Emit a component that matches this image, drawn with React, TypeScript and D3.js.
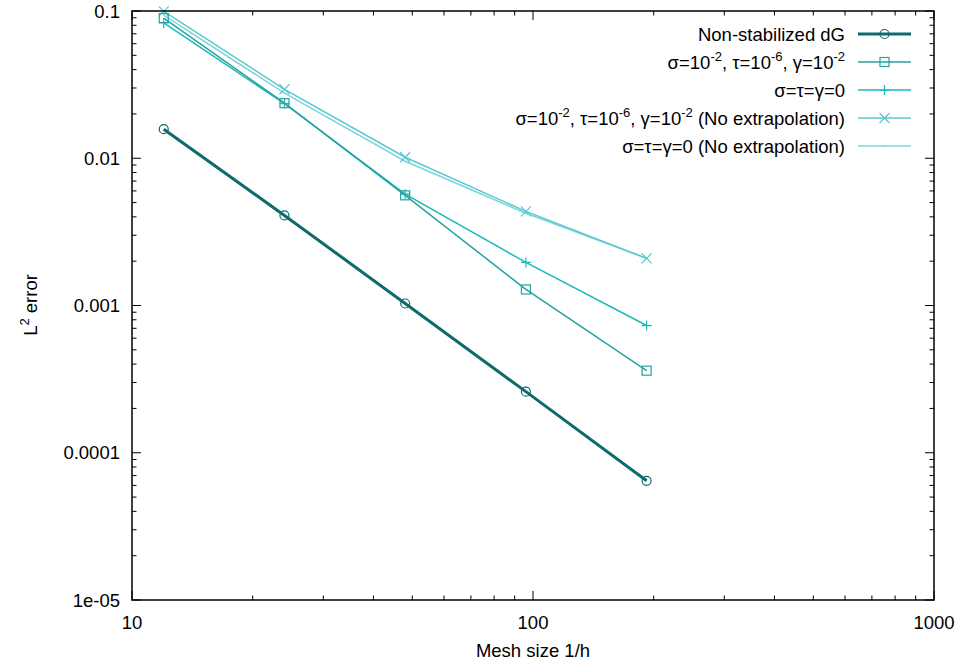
import React from "react";
import * as d3 from "d3";

const meshSizes = [12, 24, 48, 96, 192];
const nonStabilized = [0.01575, 0.00409, 0.001032, 0.00026, 6.45e-5];
const stabilized = [0.0896, 0.02366, 0.0056, 0.001285, 3.61e-4];
const zeroParams = [0.0829, 0.0235, 0.0057, 0.00196, 7.31e-4];
const stabilizedNoExtrap = [0.0995, 0.0294, 0.01016, 0.00436, 0.00209];
const zeroParamsNoExtrap = [0.0939, 0.02767, 0.00954, 0.00423, 0.00209];

const xTicks = [10, 100, 1000];
const yTicks = [1e-5, 1e-4, 1e-3, 1e-2, 1e-1];
const yTickLabels = ["1e-05", "0.0001", "0.001", "0.01", "0.1"];

type Marker = "circle" | "square" | "plus" | "cross" | "dot";
const FS = 18.5;
const SFS = 13;
const sup = (t: string, after: string) => (
  <><tspan dy={-8} fontSize={SFS}>{t}</tspan><tspan dy={8}>{after}</tspan></>
);
const seriesList: { values: number[]; color: string; width: number; marker: Marker; label: React.ReactNode }[] = [
  { values: nonStabilized, color: "#0f6a6a", width: 3, marker: "circle", label: "Non-stabilized dG" },
  {
    values: stabilized, color: "#25a2a2", width: 1.5, marker: "square",
    label: (<>σ=10{sup("-2", ", τ=10")}{sup("-6", ", γ=10")}<tspan dy={-8} fontSize={SFS}>-2</tspan></>),
  },
  { values: zeroParams, color: "#1cb8b8", width: 1.5, marker: "plus", label: "σ=τ=γ=0" },
  {
    values: stabilizedNoExtrap, color: "#58c8cf", width: 1.5, marker: "cross",
    label: (<>σ=10{sup("-2", ", τ=10")}{sup("-6", ", γ=10")}{sup("-2", " (No extrapolation)")}</>),
  },
  { values: zeroParamsNoExtrap, color: "#7fd3dc", width: 1.5, marker: "dot", label: "σ=τ=γ=0 (No extrapolation)" },
];

const W = 959, H = 664;
const L = 132, R = 934, T = 11, B = 600;
const FONT = "'Liberation Sans', Arial, sans-serif";

function MarkerShape({ type, x, y, color }: { type: Marker; x: number; y: number; color: string }) {
  const s = 4.5;
  switch (type) {
    case "circle":
      return <circle cx={x} cy={y} r={4.5} fill="none" stroke={color} strokeWidth={1.2} />;
    case "square":
      return <rect x={x - s} y={y - s} width={2 * s} height={2 * s} fill="none" stroke={color} strokeWidth={1.2} />;
    case "plus":
      return <path d={`M${x - 5},${y}H${x + 5}M${x},${y - 5}V${y + 5}`} stroke={color} strokeWidth={1.2} />;
    case "cross":
      return <path d={`M${x - 5},${y - 5}L${x + 5},${y + 5}M${x - 5},${y + 5}L${x + 5},${y - 5}`} stroke={color} strokeWidth={1.2} />;
    default:
      return <circle cx={x} cy={y} r={0.8} fill={color} />;
  }
}

export default function App() {
  const x = d3.scaleLog().domain([10, 1000]).range([L, R]);
  const y = d3.scaleLog().domain([1e-5, 0.1]).range([B, T]);
  const line = d3.line<number>().x((_, i) => x(meshSizes[i])).y((v) => y(v));

  const xMinor: number[] = [];
  for (let d = 10; d < 1000; d *= 10) for (let k = 2; k <= 9; k++) xMinor.push(d * k);
  const yMinor: number[] = [];
  for (let d = 1e-5; d < 0.09; d *= 10) for (let k = 2; k <= 9; k++) yMinor.push(d * k);

  const major = 9, minor = 4.5;
  const legendRows = [34, 62, 90, 118, 146];

  return (
    <svg width={W} height={H} style={{ position: "absolute", left: 0, top: 0, background: "#fff" }} fontFamily={FONT}>
      <rect width={W} height={H} fill="#fff" />
      <g stroke="#000" strokeWidth={1}>
        {xTicks.map((t) => (
          <g key={"xt" + t}>
            <line x1={x(t)} x2={x(t)} y1={B} y2={B - major} />
            <line x1={x(t)} x2={x(t)} y1={T} y2={T + major} />
          </g>
        ))}
        {xMinor.map((t) => (
          <g key={"xm" + t}>
            <line x1={x(t)} x2={x(t)} y1={B} y2={B - minor} />
            <line x1={x(t)} x2={x(t)} y1={T} y2={T + minor} />
          </g>
        ))}
        {yTicks.map((t) => (
          <g key={"yt" + t}>
            <line x1={L} x2={L + major} y1={y(t)} y2={y(t)} />
            <line x1={R} x2={R - major} y1={y(t)} y2={y(t)} />
          </g>
        ))}
        {yMinor.map((t) => (
          <g key={"ym" + t}>
            <line x1={L} x2={L + minor} y1={y(t)} y2={y(t)} />
            <line x1={R} x2={R - minor} y1={y(t)} y2={y(t)} />
          </g>
        ))}
      </g>
      <g fontSize={FS} fill="#000">
        {xTicks.map((t) => (
          <text key={"xl" + t} x={x(t)} y={B + 29} textAnchor="middle">{t}</text>
        ))}
        {yTicks.map((t, i) => (
          <text key={"yl" + t} x={L - 12} y={y(t) + 6.5} textAnchor="end">{yTickLabels[i]}</text>
        ))}
      </g>
      <text x={(L + R) / 2} y={657} textAnchor="middle" fontSize={FS}>Mesh size 1/h</text>
      <text transform={`translate(37,305) rotate(-90)`} textAnchor="middle" fontSize={FS}>
        L<tspan dy={-8} fontSize={SFS}>2</tspan><tspan dy={8}> error</tspan>
      </text>
      {seriesList.slice().reverse().map((s, si) => (
        <g key={"s" + si}>
          <path d={line(s.values) || ""} fill="none" stroke={s.color} strokeWidth={s.width} />
          {s.values.map((v, i) => (
            <MarkerShape key={i} type={s.marker} x={x(meshSizes[i])} y={y(v)} color={s.color} />
          ))}
        </g>
      ))}
      {seriesList.map((s, i) => (
        <g key={"lg" + i}>
          <text x={845} y={legendRows[i] + 6.5} textAnchor="end" fontSize={FS}>{s.label}</text>
          <line x1={858} x2={911} y1={legendRows[i]} y2={legendRows[i]} stroke={s.color} strokeWidth={s.width} />
          <MarkerShape type={s.marker} x={884.5} y={legendRows[i]} color={s.color} />
        </g>
      ))}
      <rect x={L} y={T} width={R - L} height={B - T} fill="none" stroke="#000" strokeWidth={1.5} />
    </svg>
  );
}
